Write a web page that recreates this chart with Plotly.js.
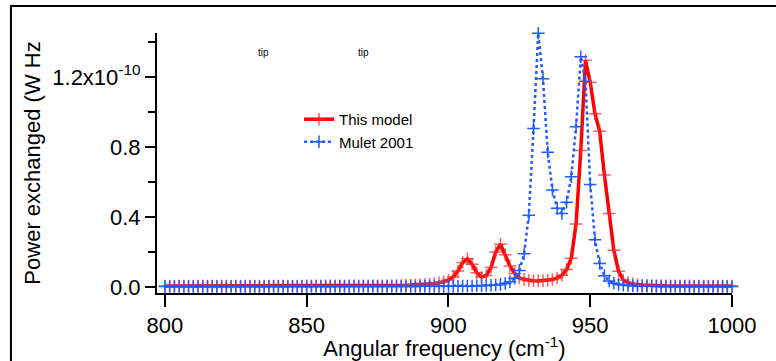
<!DOCTYPE html>
<html>
<head>
<meta charset="utf-8">
<script src="https://cdn.plot.ly/plotly-3.0.1.min.js"></script>
<style>html,body{margin:0;padding:0;background:#fff}#chart{width:776px;height:361px}</style>
</head>
<body>
<div id="chart"></div>
<script>
// Angular frequency (cm^-1)
const freq = [
  800, 801.67, 803.33, 805, 806.67, 808.33, 810, 811.67, 813.33, 815, 816.67, 818.33,
  820, 821.67, 823.33, 825, 826.67, 828.33, 830, 831.67, 833.33, 835, 836.67, 838.33,
  840, 841.67, 843.33, 845, 846.67, 848.33, 850, 851.67, 853.33, 855, 856.67, 858.33,
  860, 861.67, 863.33, 865, 866.67, 868.33, 870, 871.67, 873.33, 875, 876.67, 878.33,
  880, 881.67, 883.33, 885, 886.67, 888.33, 890, 891.67, 893.33, 895, 896.67, 898.33,
  900, 901.67, 903.33, 905, 906.67, 908.33, 910, 911.67, 913.33, 915, 916.67, 918.33,
  920, 921.67, 923.33, 925, 926.67, 928.33, 930, 931.67, 933.33, 935, 936.67, 938.33,
  940, 941.67, 943.33, 945, 946.67, 948.33, 950, 951.67, 953.33, 955, 956.67, 958.33,
  960, 961.67, 963.33, 965, 966.67, 968.33, 970, 971.67, 973.33, 975, 976.67, 978.33,
  980, 981.67, 983.33, 985, 986.67, 988.33, 990, 991.67, 993.33, 995, 996.67, 998.33,
  1000
];
// Power exchanged, in units of 1e-10 W Hz^-1
const thisModel = [
  0.006, 0.006, 0.006, 0.006, 0.006, 0.006, 0.006, 0.006, 0.006, 0.006, 0.006, 0.006,
  0.006, 0.006, 0.006, 0.006, 0.006, 0.006, 0.006, 0.006, 0.006, 0.006, 0.006, 0.006,
  0.006, 0.006, 0.006, 0.006, 0.006, 0.006, 0.007, 0.007, 0.007, 0.007, 0.007, 0.007,
  0.007, 0.007, 0.007, 0.007, 0.007, 0.007, 0.007, 0.007, 0.007, 0.007, 0.007, 0.008,
  0.008, 0.008, 0.009, 0.010, 0.011, 0.012, 0.013, 0.015, 0.017, 0.020, 0.024, 0.030,
  0.040, 0.058, 0.092, 0.140, 0.162, 0.130, 0.082, 0.057, 0.066, 0.112, 0.200, 0.245,
  0.185, 0.120, 0.078, 0.053, 0.043, 0.038, 0.036, 0.035, 0.036, 0.038, 0.043, 0.052,
  0.068, 0.100, 0.165, 0.360, 0.780, 1.295, 1.170, 0.990, 0.890, 0.640, 0.420, 0.210,
  0.090, 0.040, 0.025, 0.018, 0.014, 0.012, 0.010, 0.009, 0.008, 0.008, 0.007, 0.007,
  0.007, 0.007, 0.007, 0.007, 0.006, 0.006, 0.006, 0.006, 0.006, 0.006, 0.006, 0.006,
  0.006
];
const mulet2001 = [
  0.003, 0.003, 0.003, 0.003, 0.003, 0.003, 0.003, 0.003, 0.003, 0.003, 0.003, 0.003,
  0.003, 0.003, 0.003, 0.003, 0.003, 0.003, 0.003, 0.003, 0.003, 0.003, 0.003, 0.003,
  0.003, 0.003, 0.003, 0.003, 0.003, 0.003, 0.003, 0.003, 0.003, 0.003, 0.003, 0.003,
  0.003, 0.003, 0.003, 0.003, 0.003, 0.003, 0.003, 0.003, 0.003, 0.003, 0.003, 0.003,
  0.003, 0.003, 0.003, 0.003, 0.003, 0.003, 0.004, 0.004, 0.004, 0.004, 0.004, 0.004,
  0.004, 0.004, 0.004, 0.005, 0.005, 0.006, 0.007, 0.008, 0.009, 0.010, 0.012, 0.015,
  0.020, 0.030, 0.050, 0.095, 0.190, 0.410, 0.905, 1.450, 1.190, 0.770, 0.555, 0.450,
  0.420, 0.485, 0.630, 0.915, 1.315, 1.175, 0.585, 0.270, 0.135, 0.065, 0.035, 0.022,
  0.015, 0.011, 0.009, 0.007, 0.006, 0.005, 0.005, 0.004, 0.004, 0.003, 0.003, 0.003,
  0.003, 0.003, 0.003, 0.003, 0.003, 0.003, 0.003, 0.003, 0.003, 0.003, 0.003, 0.003,
  0.003
];
const seriesNames = ['This model', 'Mulet 2001'];
const xTickVals = [800, 850, 900, 950, 1000];
const yTickVals = [0, 0.4, 0.8, 1.2];
const yTickText = ['0.0', '0.4', '0.8', '1.2x10<sup>-10</sup>'];
const yMinorVals = [0.2, 0.6, 1.0, 1.4];
const xTitle = 'Angular frequency (cm<sup>-1</sup>)';
const yTitle = 'Power exchanged (W Hz';
const noteTexts = ['tip', 'tip'];
const noteX = [834.6, 869.9];
const noteY = [1.337, 1.337];

const FONT = 'Liberation Sans, Arial, Helvetica, sans-serif';
const RED = 'rgb(255,0,0)';
const BLUE = 'rgb(31,91,255)';

const traces = [
  {
    x: freq, y: thisModel, name: seriesNames[0], type: 'scatter', mode: 'lines+markers',
    line: {color: RED, width: 3.5},
    marker: {symbol: 'cross-thin', size: 9, line: {color: 'rgba(255,40,40,0.75)', width: 1.5}},
    cliponaxis: false
  },
  {
    x: freq, y: mulet2001, name: seriesNames[1], type: 'scatter', mode: 'lines+markers',
    line: {color: BLUE, width: 2.5, dash: 'dot'},
    marker: {symbol: 'cross-thin', size: 9, line: {color: BLUE, width: 1.5}},
    cliponaxis: false
  }
];

const layout = {
  width: 776, height: 361,
  margin: {l: 157, r: 44, t: 33, b: 68, pad: 0},
  paper_bgcolor: 'white', plot_bgcolor: 'white',
  font: {family: FONT, color: 'black', size: 22},
  showlegend: true,
  legend: {
    x: 0.247, y: 0.731, xanchor: 'left', yanchor: 'top',
    font: {family: FONT, size: 15, color: 'black'},
    bgcolor: 'rgba(0,0,0,0)', borderwidth: 0, itemwidth: 30, tracegroupgap: 0
  },
  xaxis: {
    range: [797.2, 1000], tickmode: 'array', tickvals: xTickVals,
    ticks: 'outside', ticklen: 12, tickwidth: 2, tickcolor: 'black',
    showline: true, linecolor: 'black', linewidth: 2,
    showgrid: false, zeroline: false, automargin: false,
    tickfont: {family: FONT, size: 22, color: 'black'},
    title: {text: xTitle, font: {family: FONT, size: 22, color: 'black'}, standoff: 2}
  },
  yaxis: {
    range: [-0.034, 1.451], tickmode: 'array', tickvals: yTickVals, ticktext: yTickText,
    ticks: 'outside', ticklen: 10, tickwidth: 2, tickcolor: 'black',
    minor: {tickmode: 'array', tickvals: yMinorVals, ticks: 'outside', ticklen: 7, tickwidth: 2, tickcolor: 'black', showgrid: false},
    showline: true, linecolor: 'black', linewidth: 2,
    showgrid: false, zeroline: false, automargin: false,
    tickfont: {family: FONT, size: 22, color: 'black'},
    title: {text: yTitle, font: {family: FONT, size: 22, color: 'black'}, standoff: 6}
  },
  annotations: noteTexts.map((t, i) => ({
    text: t, x: noteX[i], y: noteY[i], xref: 'x', yref: 'y', showarrow: false,
    font: {family: FONT, size: 10, color: 'black'}
  })),
  shapes: [{
    type: 'rect', xref: 'paper', yref: 'paper', x0: -0.254, x1: 2, y0: -2, y1: 1.104,
    line: {color: 'black', width: 2}, fillcolor: 'rgba(0,0,0,0)', layer: 'above'
  }]
};

Plotly.newPlot('chart', traces, layout, {displayModeBar: false, staticPlot: true});
</script>
</body>
</html>
